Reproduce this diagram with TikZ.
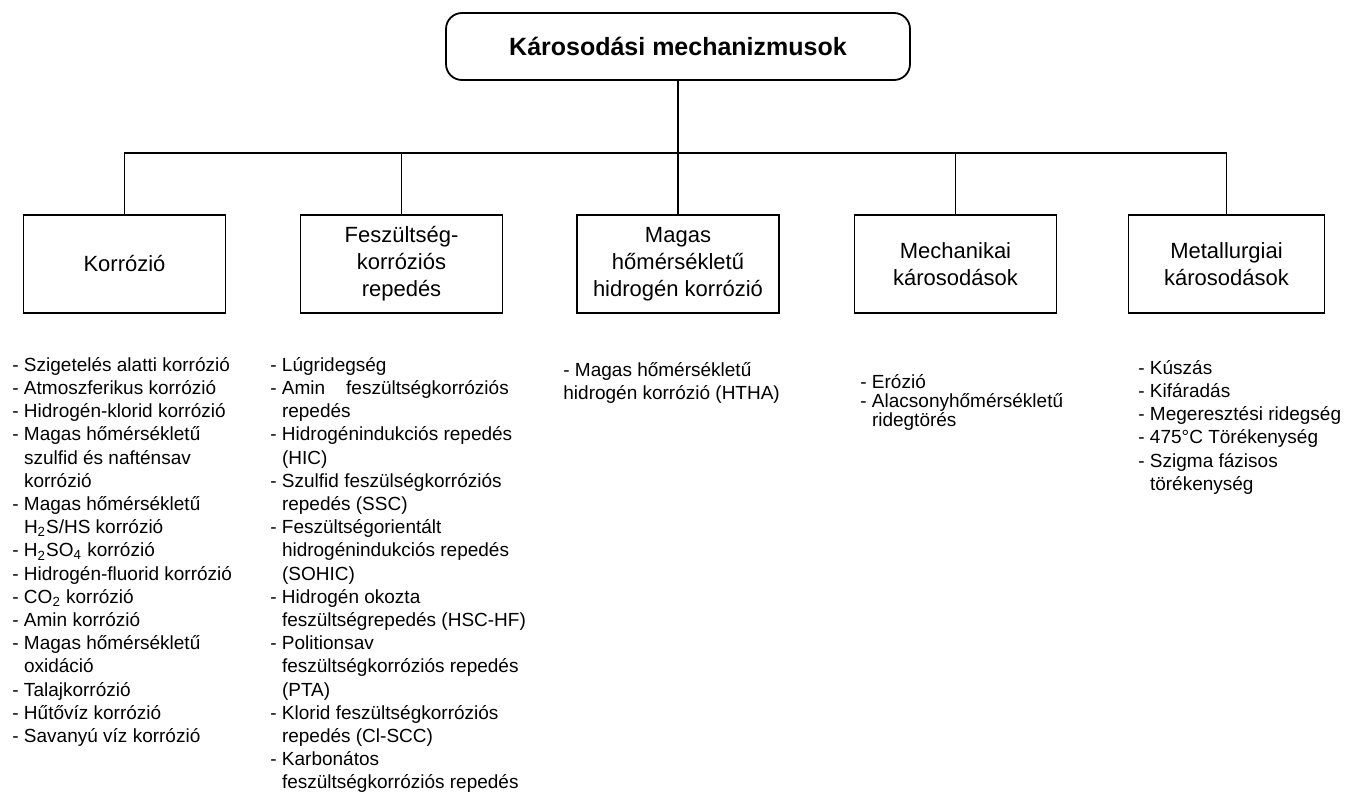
\documentclass[tikz,border=0pt]{standalone}
\usepackage{fontspec}
\setmainfont{Liberation Sans}
\usepackage{tikz}
\usetikzlibrary{positioning}
\usepackage{xcolor}
\definecolor{cLine}{HTML}{000000}
\definecolor{cText}{HTML}{000000}
\tikzset{
  rootbox/.style={
    draw=cLine, rounded corners=8pt, line width=0.9pt,
    minimum width=232pt, minimum height=33.5pt,
    font=\fontsize{12.5}{15}\selectfont\bfseries, text=cText,
  },
  catbox/.style={
    draw=cLine, line width=0.9pt,
    minimum width=101pt, minimum height=49pt, inner sep=2pt,
    font=\fontsize{11}{13.5}\selectfont, text=cText,
    align=center,
  },
  itemlist/.style={
    anchor=north west, inner sep=0pt, align=left,
    font=\fontsize{9.5}{#1}\selectfont, text=cText,
  },
  itemlist/.default=11.6pt,
  link/.style={draw=cLine, line width=0.8pt},
}
\newcommand{\ind}{\hphantom{- }}

\begin{document}
\begin{tikzpicture}[x=0.5pt, y=-0.5pt]
  \useasboundingbox (0,0) rectangle (1356,792);

  % Root
  \node[rootbox] (root) at (678,46.5) {Károsodási mechanizmusok};

  % Categories
  \node[catbox] (korr)  at (124.5,264) {Korrózió};
  \node[catbox] (fesz)  at (401.5,264) {Feszültség-\\korróziós\\repedés};
  \node[catbox] (htha)  at (678,264)   {Magas\\hőmérsékletű\\hidrogén korrózió};
  \node[catbox] (mech)  at (955.5,264) {Mechanikai\\károsodások};
  \node[catbox, minimum width=98pt] (metal) at (1226.5,264) {Metallurgiai\\károsodások};

  % Tree
  \coordinate (bus) at (678,153);
  \draw[link] (root) -- (bus);
  \foreach \n in {korr,fesz,htha,mech,metal}
    \draw[link] (\n.north) |- (bus);

  % Lists
  \node[itemlist] (lkorr) at (12,357) {%
    - Szigetelés alatti korrózió\\
    - Atmoszferikus korrózió\\
    - Hidrogén-klorid korrózió\\
    - Magas hőmérsékletű\\
    \ind szulfid és nafténsav\\
    \ind korrózió\\
    - Magas hőmérsékletű\\
    \ind H\textsubscript{2}S/HS korrózió\\
    - H\textsubscript{2}SO\textsubscript{4} korrózió\\
    - Hidrogén-fluorid korrózió\\
    - CO\textsubscript{2} korrózió\\
    - Amin korrózió\\
    - Magas hőmérsékletű\\
    \ind oxidáció\\
    - Talajkorrózió\\
    - Hűtővíz korrózió\\
    - Savanyú víz korrózió};
  \node[itemlist] (lfesz) at (270,357) {%
    - Lúgridegség\\
    - Amin\hspace{1.1em}feszültségkorróziós\\
    \ind repedés\\
    - Hidrogénindukciós repedés\\
    \ind (HIC)\\
    - Szulfid feszülségkorróziós\\
    \ind repedés (SSC)\\
    - Feszültségorientált\\
    \ind hidrogénindukciós repedés\\
    \ind (SOHIC)\\
    - Hidrogén okozta\\
    \ind feszültségrepedés (HSC-HF)\\
    - Politionsav\\
    \ind feszültségkorróziós repedés\\
    \ind (PTA)\\
    - Klorid feszültségkorróziós\\
    \ind repedés (Cl-SCC)\\
    - Karbonátos\\
    \ind feszültségkorróziós repedés};
  \node[itemlist] (lhtha) at (563,362) {%
    - Magas hőmérsékletű\\
    hidrogén korrózió (HTHA)};
  \node[itemlist=9.6pt] (lmech) at (860,374) {%
    - Erózió\\
    - Alacsonyhőmérsékletű\\
    \ind ridegtörés};
  \node[itemlist] (lmetal) at (1138,360) {%
    - Kúszás\\
    - Kifáradás\\
    - Megeresztési ridegség\\
    - 475°C Törékenység\\
    - Szigma fázisos\\
    \ind törékenység};

\end{tikzpicture}
\end{document}
